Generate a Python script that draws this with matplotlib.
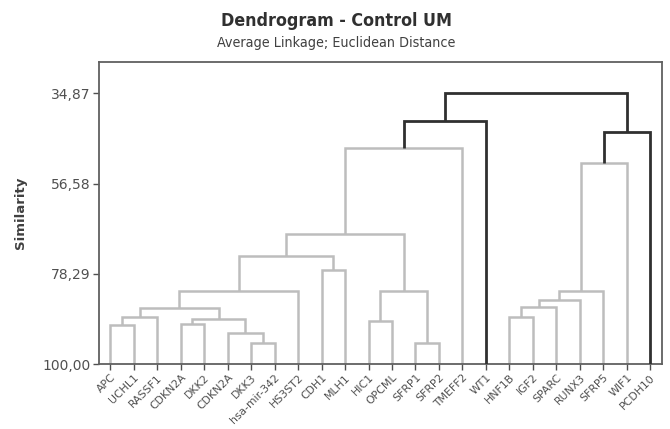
import numpy as np
import matplotlib
matplotlib.use('Agg')
import matplotlib.pyplot as plt

# leaves in display order
labels = ['APC', 'UCHL1', 'RASSF1', 'CDKN2A', 'DKK2', 'CDKN2A', 'DKK3',
          'hsa-mir-342', 'HS3ST2', 'CDH1', 'MLH1', 'HIC1', 'OPCML', 'SFRP1',
          'SFRP2', 'TMEFF2', 'WT1', 'HNF1B', 'IGF2', 'SPARC', 'RUNX3',
          'SFRP5', 'WIF1', 'PCDH10']

# merges: child a, child b, similarity  (new cluster ids start at 24)
merge_a = [6, 13, 5, 0, 3, 11, 28, 17, 27, 32, 31, 34, 33, 29, 35, 9, 36, 40, 38, 41, 42, 43, 45]
merge_b = [7, 14, 24, 1, 4, 12, 26, 18, 2, 30, 19, 20, 8, 25, 21, 10, 39, 37, 22, 15, 23, 16, 44]
merge_sim = [94.9, 94.9, 92.5, 90.7, 90.4, 89.7, 89.2, 88.8, 88.6, 86.5, 86.2, 84.6,
             82.5, 82.35, 82.35, 77.5, 74.1, 68.7, 51.7, 48.1, 44.25, 41.5, 34.87]

yticks_v = [34.87, 56.58, 78.29, 100.0]
ytick_lab = ['34,87', '56,58', '78,29', '100,00']

cut = 45.0
col_in = '#bdbdbd'
col_out = '#303030'

n = len(labels)
xpos = {i: i + 1.0 for i in range(n)}
ypos = {i: 100.0 for i in range(n)}
for k in range(len(merge_a)):
    node = n + k
    a, b = merge_a[k], merge_b[k]
    xpos[node] = (xpos[a] + xpos[b]) / 2.0
    ypos[node] = merge_sim[k]

fig = plt.figure(figsize=(6.7, 4.29), dpi=100)
ax = fig.add_axes([99/670, 1-364/429, (662-99)/670, (364-62)/429])

for k in range(len(merge_a)):
    node = n + k
    a, b = merge_a[k], merge_b[k]
    h = merge_sim[k]
    c = col_out if h < cut else col_in
    lw = 2.0 if h < cut else 1.8
    ax.plot([xpos[a], xpos[a], xpos[b], xpos[b]],
            [ypos[a], h, h, ypos[b]], color=c, lw=lw,
            solid_joinstyle='miter', solid_capstyle='butt', zorder=3 if h < cut else 2)

ax.set_xlim(0.52, n + 0.5)
ax.set_ylim(100, 27.35)
ax.set_yticks(yticks_v)
ax.set_yticklabels(ytick_lab, fontsize=10, color='#505050')
ax.set_xticks(np.arange(1, n + 1))
ax.set_xticklabels(labels, rotation=45, ha='right', va='top', fontsize=7.8,
                   color='#505050', rotation_mode='anchor')
ax.tick_params(direction='out', length=4, width=1, color='#505050', pad=2)
for s in ax.spines.values():
    s.set_color('#606060')
    s.set_linewidth(1.3)

ax.set_ylabel('Similarity', fontsize=9.5, fontweight='bold', color='#404040', labelpad=11)

fig.text(0.5025, 1-21/429, 'Dendrogram - Control UM', ha='center', va='center',
         fontsize=12.8, fontweight='bold', color='#303030', fontstretch='condensed')
fig.text(0.5025, 1-43/429, 'Average Linkage; Euclidean Distance', ha='center', va='center',
         fontsize=10.3, color='#404040', fontstretch='condensed')

fig.savefig('out.png', dpi=100)
